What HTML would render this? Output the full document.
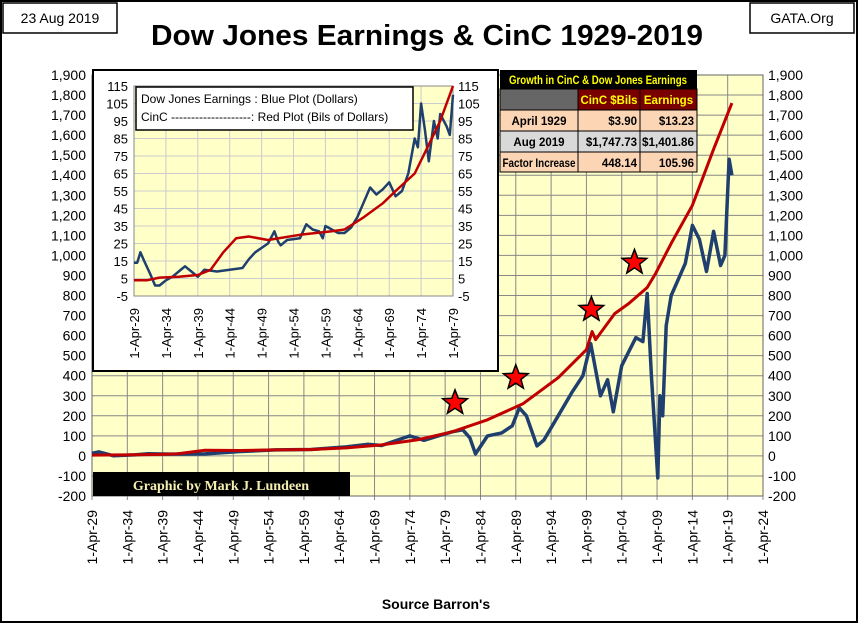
<!DOCTYPE html>
<html><head><meta charset="utf-8"><style>
body{margin:0;background:#fff}
svg text{font-family:"Liberation Sans",sans-serif}
</style></head><body>
<svg id="c" width="858" height="623" viewBox="0 0 858 623" xmlns="http://www.w3.org/2000/svg">
<rect x="1" y="1" width="856" height="621" fill="#fff" stroke="#000" stroke-width="2"/>
<rect x="3" y="3" width="114" height="30" fill="#fff" stroke="#000" stroke-width="1.5"/>
<text x="60" y="23" font-size="14" text-anchor="middle">23 Aug 2019</text>
<rect x="750" y="3" width="104" height="30" fill="#fff" stroke="#000" stroke-width="1.5"/>
<text x="802" y="23" font-size="14" text-anchor="middle">GATA.Org</text>
<text x="427" y="45" font-size="29" font-weight="bold" text-anchor="middle" textLength="552" lengthAdjust="spacingAndGlyphs">Dow Jones Earnings &amp; CinC 1929-2019</text>
<text x="436" y="609" font-size="14" font-weight="bold" text-anchor="middle">Source Barron's</text>
<g id="main"></g>
<g id="inset"></g>
<g id="tbl"></g>
</svg>
<script>
const mainTicksY=[-200,-100,0,100,200,300,400,500,600,700,800,900,1000,1100,1200,1300,1400,1500,1600,1700,1800,1900];
const mainTickYears=[1929,1934,1939,1944,1949,1954,1959,1964,1969,1974,1979,1984,1989,1994,1999,2004,2009,2014,2019,2024];
const earnYears=[1929,1930,1932,1935,1937,1940,1945,1950,1955,1960,1965,1968,1970,1974,1976,1978,1980,1981.5,1982.5,1983.3,1985,1987,1988.5,1989.5,1990.5,1992,1993,1995,1997,1998.5,1999.6,2001,2002,2002.8,2004,2006,2007,2007.6,2008.2,2009.1,2009.4,2009.8,2010.3,2011,2013,2014,2015,2016,2017,2018,2018.6,2019.2,2019.6];
const earnVals=[13,20,1,5,11,9,10,22,30,32,45,58,52,100,78,100,120,130,90,10,100,115,150,240,200,50,80,200,320,400,560,300,380,220,450,590,570,810,400,-110,300,200,650,800,960,1150,1080,920,1120,950,1000,1480,1400];
const cincYears=[1929,1933,1938,1941,1945,1950,1955,1960,1965,1970,1975,1980,1985,1990,1995,1999,1999.8,2000.3,2003,2005,2007.6,2008.8,2011,2014,2017,2019.6];
const cincVals=[4,5,7,10,28,27,30,32,40,55,80,120,180,260,390,530,620,580,710,760,840,910,1060,1250,1530,1760];
const starYears=[1980.4,1989,1999.7,2005.8];
const starVals=[265,390,730,965];
const insetTicksY=[-5,5,15,25,35,45,55,65,75,85,95,105,115];
const insetTickYears=[1929,1934,1939,1944,1949,1954,1959,1964,1969,1974,1979];
const inEarnYears=[1929,1929.5,1930,1930.6,1931.5,1932.3,1933,1934,1935,1936,1937,1938,1939,1940,1942,1944,1946,1947,1948,1950,1951,1951.6,1952,1953,1955,1956,1957,1958,1958.6,1959,1960,1961,1962,1963,1964,1966,1967,1968,1969,1970,1971,1972,1973,1973.5,1974,1974.6,1975.2,1976,1976.6,1977,1978,1978.5,1979];
const inEarnVals=[14,14,20,15,8,1,1,4,6,9,12,9,6,10,9,10,11,16,20,25,32,26,24,27,28,36,33,32,28,35,33,31,31,34,40,57,53,56,60,52,55,65,85,80,105,90,72,95,85,99,92,87,110];
const inCincYears=[1929,1931,1933,1936,1939,1941,1943,1945,1947,1950,1955,1960,1962,1965,1968,1970,1973,1975,1977,1979];
const inCincVals=[4,4,5.5,6,7,10,20,28,29,27,30,32,33,40,48,55,65,80,95,115];

const NS="http://www.w3.org/2000/svg";
function mk(p,t,a){const e=document.createElementNS(NS,t);for(const k in a)e.setAttribute(k,a[k]);p.appendChild(e);return e;}
const X0=92,X1=763,Y0=496,Y1=75;
const mx=y=>X0+(y-1929)/(2024-1929)*(X1-X0);
const my=v=>Y0-(v+200)/2100*(Y0-Y1);
const M=document.getElementById('main');
const bg=mk(M,'rect',{x:X0,y:Y1,width:X1-X0,height:Y0-Y1,fill:'#ffffc8'});


mainTicksY.forEach(v=>{
 const l=mk(M,'line',{x1:X0,x2:X1,y1:my(v),y2:my(v),stroke:'#888','stroke-width':1});
 
 
 const t=mk(M,'text',{x:X0-6,y:my(v)+5,'font-size':14,'text-anchor':'end'});t.textContent=v.toLocaleString('en-US');
 
 
 const t2=mk(M,'text',{x:X1+5,y:my(v)+5,'font-size':14});t2.textContent=v.toLocaleString('en-US');
 
 
});
mainTickYears.forEach(y=>{
 const l=mk(M,'line',{x1:mx(y),x2:mx(y),y1:Y1,y2:Y0+4,stroke:'#888','stroke-width':1});
 
 
 const t=mk(M,'text',{x:0,y:0,'font-size':14,'text-anchor':'end',transform:`translate(${mx(y)+5},510) rotate(-90)`});
 t.textContent='1-Apr-'+String(y%100).padStart(2,'0');
 
 
});
const fr=mk(M,'rect',{x:X0,y:Y1,width:X1-X0,height:Y0-Y1,fill:'none',stroke:'#666'});


const pth=(ys,vs,fx,fy)=>ys.map((y,i)=>(i?'L':'M')+fx(y).toFixed(1)+','+fy(vs[i]).toFixed(1)).join('');
const be=mk(M,'path',{d:pth(earnYears,earnVals,mx,my),fill:'none',stroke:'#1f3f6e','stroke-width':3.5,'stroke-linejoin':'round'});


const rc=mk(M,'path',{d:pth(cincYears,cincVals,mx,my),fill:'none',stroke:'#c00000','stroke-width':3,'stroke-linejoin':'round'});


function star(cx,cy,R,r){let s='';for(let i=0;i<10;i++){const a=-Math.PI/2+i*Math.PI/5,rr=i%2?r:R;s+=(cx+rr*Math.cos(a)).toFixed(1)+','+(cy+rr*Math.sin(a)).toFixed(1)+' ';}return s;}
starYears.forEach((y,i)=>{
 const s=mk(M,'polygon',{points:star(mx(y),my(starVals[i]),13,5.5),fill:'#ff0000',stroke:'#000','stroke-width':1.5});
 
 
});
const lb=mk(M,'rect',{x:93,y:472,width:257,height:24,fill:'#000'});


const lt=mk(M,'text',{x:221,y:490,'font-size':14,'font-weight':'bold','text-anchor':'middle',fill:'#f4eeb0',style:'font-family:"Liberation Serif",serif'});
lt.textContent='Graphic by Mark J. Lundeen';



const I=document.getElementById('inset');
const ib=mk(I,'rect',{x:93,y:70,width:405,height:301,fill:'#fff',stroke:'#000','stroke-width':2});


const IX0=134,IX1=453,IY0=296,IY1=86;
const ix=y=>IX0+(y-1929)/50*(IX1-IX0);
const iy=v=>IY0-(v+5)/120*(IY0-IY1);
const ibg=mk(I,'rect',{x:IX0,y:IY1,width:IX1-IX0,height:IY0-IY1,fill:'#ffffc8'});


insetTicksY.forEach(v=>{
 const l=mk(I,'line',{x1:IX0,x2:IX1,y1:iy(v),y2:iy(v),stroke:'#ccc'});
 
 
 const t=mk(I,'text',{x:IX0-6,y:iy(v)+5,'font-size':13,'text-anchor':'end'});t.textContent=v;
 
 
 const t2=mk(I,'text',{x:IX1+5,y:iy(v)+5,'font-size':13});t2.textContent=v;
 
 
});
insetTickYears.forEach(y=>{
 const l=mk(I,'line',{x1:ix(y),x2:ix(y),y1:IY1,y2:IY0,stroke:'#ccc'});
 
 
 const t=mk(I,'text',{x:0,y:0,'font-size':13,'text-anchor':'end',transform:`translate(${ix(y)+5},308) rotate(-90)`});
 t.textContent='1-Apr-'+String(y%100).padStart(2,'0');
 
 
});
const ifr=mk(I,'rect',{x:IX0,y:IY1,width:IX1-IX0,height:IY0-IY1,fill:'none',stroke:'#888'});


const ie=mk(I,'path',{d:pth(inEarnYears,inEarnVals,ix,iy),fill:'none',stroke:'#1f3f6e','stroke-width':2.5,'stroke-linejoin':'round'});


const ic=mk(I,'path',{d:pth(inCincYears,inCincVals,ix,iy),fill:'none',stroke:'#c00000','stroke-width':2.5,'stroke-linejoin':'round'});


const lg=mk(I,'rect',{x:136,y:87,width:277,height:43,fill:'#fff',stroke:'#000','stroke-width':1.5});


const l1=mk(I,'text',{x:141,y:103,'font-size':12});l1.textContent='Dow Jones Earnings : Blue Plot (Dollars)';


const l2=mk(I,'text',{x:141,y:121,'font-size':12});l2.textContent='CinC --------------------:  Red Plot (Bils of Dollars)';



const T=document.getElementById('tbl');
const cols=[500,578,640,697];
const rows=[70,89,110,131,152,172];
const fills=[['#000','#000','#000'],['#666','#7a0000','#7a0000'],['#fcd5b4','#fcd5b4','#fcd5b4'],['#d9d9d9','#d9d9d9','#d9d9d9'],['#fcd5b4','#fcd5b4','#fcd5b4']];
const cells=[["","",""],["","CinC $Bils","Earnings"],["April 1929","$3.90","$13.23"],["Aug 2019","$1,747.73","$1,401.86"],["Factor Increase","448.14","105.96"]];
const hr=mk(T,'rect',{x:500,y:70,width:197,height:19,fill:'#000'});


const ht=mk(T,'text',{x:598,y:84,'font-size':11.5,'font-weight':'bold','text-anchor':'middle',fill:'#ffff00',textLength:178,lengthAdjust:'spacingAndGlyphs'});ht.textContent='Growth in CinC & Dow Jones Earnings';


for(let r=1;r<5;r++)for(let c=0;c<3;c++){
 const cr=mk(T,'rect',{x:cols[c],y:rows[r],width:cols[c+1]-cols[c],height:rows[r+1]-rows[r],fill:fills[r][c],stroke:'#000','stroke-width':1});
 
 
 const txt=cells[r][c];if(!txt)continue;
 const hdr=r==1;
 const a={x:c==0?(cols[0]+cols[1])/2:(hdr?(cols[c]+cols[c+1])/2:cols[c+1]-3),y:rows[r]+15,'font-size':11.5,'font-weight':'bold','text-anchor':c==0||hdr?'middle':'end',fill:hdr?'#ffff00':'#000'};
 const w=cols[c+1]-cols[c]-5;
 if(txt.length*6.3>w){a.textLength=w;a.lengthAdjust='spacingAndGlyphs';}
 const t=mk(T,'text',a);
 t.textContent=txt;
 
 
}
</script>
</body></html>
